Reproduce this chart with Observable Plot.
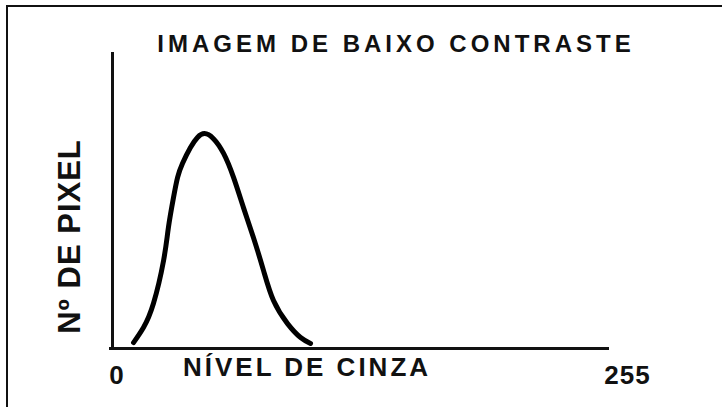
<!DOCTYPE html>
<html>
<head>
<meta charset="utf-8">
<script src="https://cdn.jsdelivr.net/npm/d3@7"></script>
<script src="https://cdn.jsdelivr.net/npm/@observablehq/plot@0.6"></script>
<style>
  html, body { margin: 0; padding: 0; background: #fff; }
  #wrap { position: relative; width: 722px; height: 407px; overflow: hidden; }
  #border { position: absolute; left: 6px; top: 5px; right: -10px; bottom: -10px;
            border-top: 2px solid #111; border-left: 2px solid #111; }
  #chart { position: absolute; left: 0; top: 0; }
  svg text { font-family: "Liberation Sans", Arial, sans-serif; }
  .ttl text { letter-spacing: 4px; }
  .xlab text { letter-spacing: 3px; }
  .ylab text { letter-spacing: 1px; }
  .tmax text { letter-spacing: 1px; }
</style>
</head>
<body>
<div id="wrap"><div id="border"></div><div id="chart"></div></div>
<script>
// Histogram curve (gray level vs. relative pixel count, 0..100)
const grayLevel = [10.8, 15.9, 21.0, 26.2, 28.7, 31.3, 33.4, 35.9, 40.0, 43.6, 47.2, 51.8, 57.0, 62.1, 67.2, 72.3, 77.5, 82.6, 89.8, 96.5, 101.6];
const pixelCount = [2.0, 7.1, 15.2, 29.7, 40.9, 51.0, 57.8, 62.5, 67.9, 71.3, 72.6, 70.9, 65.9, 57.8, 47.6, 37.5, 26.3, 16.2, 8.4, 3.7, 1.7];

const titleText = "IMAGEM DE BAIXO CONTRASTE";
const xAxisLabel = "NÍVEL DE CINZA";
const yAxisLabel = "Nº DE PIXEL";
const xTickMin = [0];
const xTickMinLabels = ["0"];
const xTickMax = [255];
const xTickMaxLabels = ["255"];

const curve = grayLevel.map((g, i) => ({g, n: pixelCount[i]}));

const plot = Plot.plot({
  width: 722,
  height: 407,
  marginLeft: 112,
  marginRight: 113,
  marginTop: 52,
  marginBottom: 59,
  x: {domain: [0, 255], axis: null},
  y: {domain: [0, 100], axis: null},
  style: {background: "transparent", overflow: "visible"},
  marks: [
    Plot.ruleX([0], {stroke: "#111", strokeWidth: 3}),
    Plot.ruleY([0], {stroke: "#111", strokeWidth: 3, insetLeft: -3}),
    Plot.line(curve, {x: "g", y: "n", curve: "natural", stroke: "#000", strokeWidth: 5, strokeLinejoin: "round", strokeLinecap: "round"}),
    Plot.text(xTickMin, {x: d => d, y: 0, text: (d, i) => xTickMinLabels[i], dy: 27, dx: 4, fontSize: 26, fontWeight: "bold", fill: "#111"}),
    Plot.text(xTickMax, {x: d => d, y: 0, text: (d, i) => xTickMaxLabels[i], dy: 27, dx: 18, fontSize: 26, fontWeight: "bold", fill: "#111", className: "tmax"}),
    Plot.text([xAxisLabel], {frameAnchor: "bottom", text: d => d, dy: 27, dx: -54, fontSize: 26, fontWeight: "bold", fill: "#111", className: "xlab"}),
    Plot.text([yAxisLabel], {frameAnchor: "left", textAnchor: "middle", text: d => d, rotate: -90, dx: -42, dy: 36, fontSize: 31, fontWeight: "bold", fill: "#111", className: "ylab"}),
    Plot.text([titleText], {frameAnchor: "top", text: d => d, dy: -18, dx: 35, fontSize: 24, fontWeight: "bold", fill: "#111", className: "ttl"})
  ]
});
document.getElementById("chart").appendChild(plot);
</script>
</body>
</html>
